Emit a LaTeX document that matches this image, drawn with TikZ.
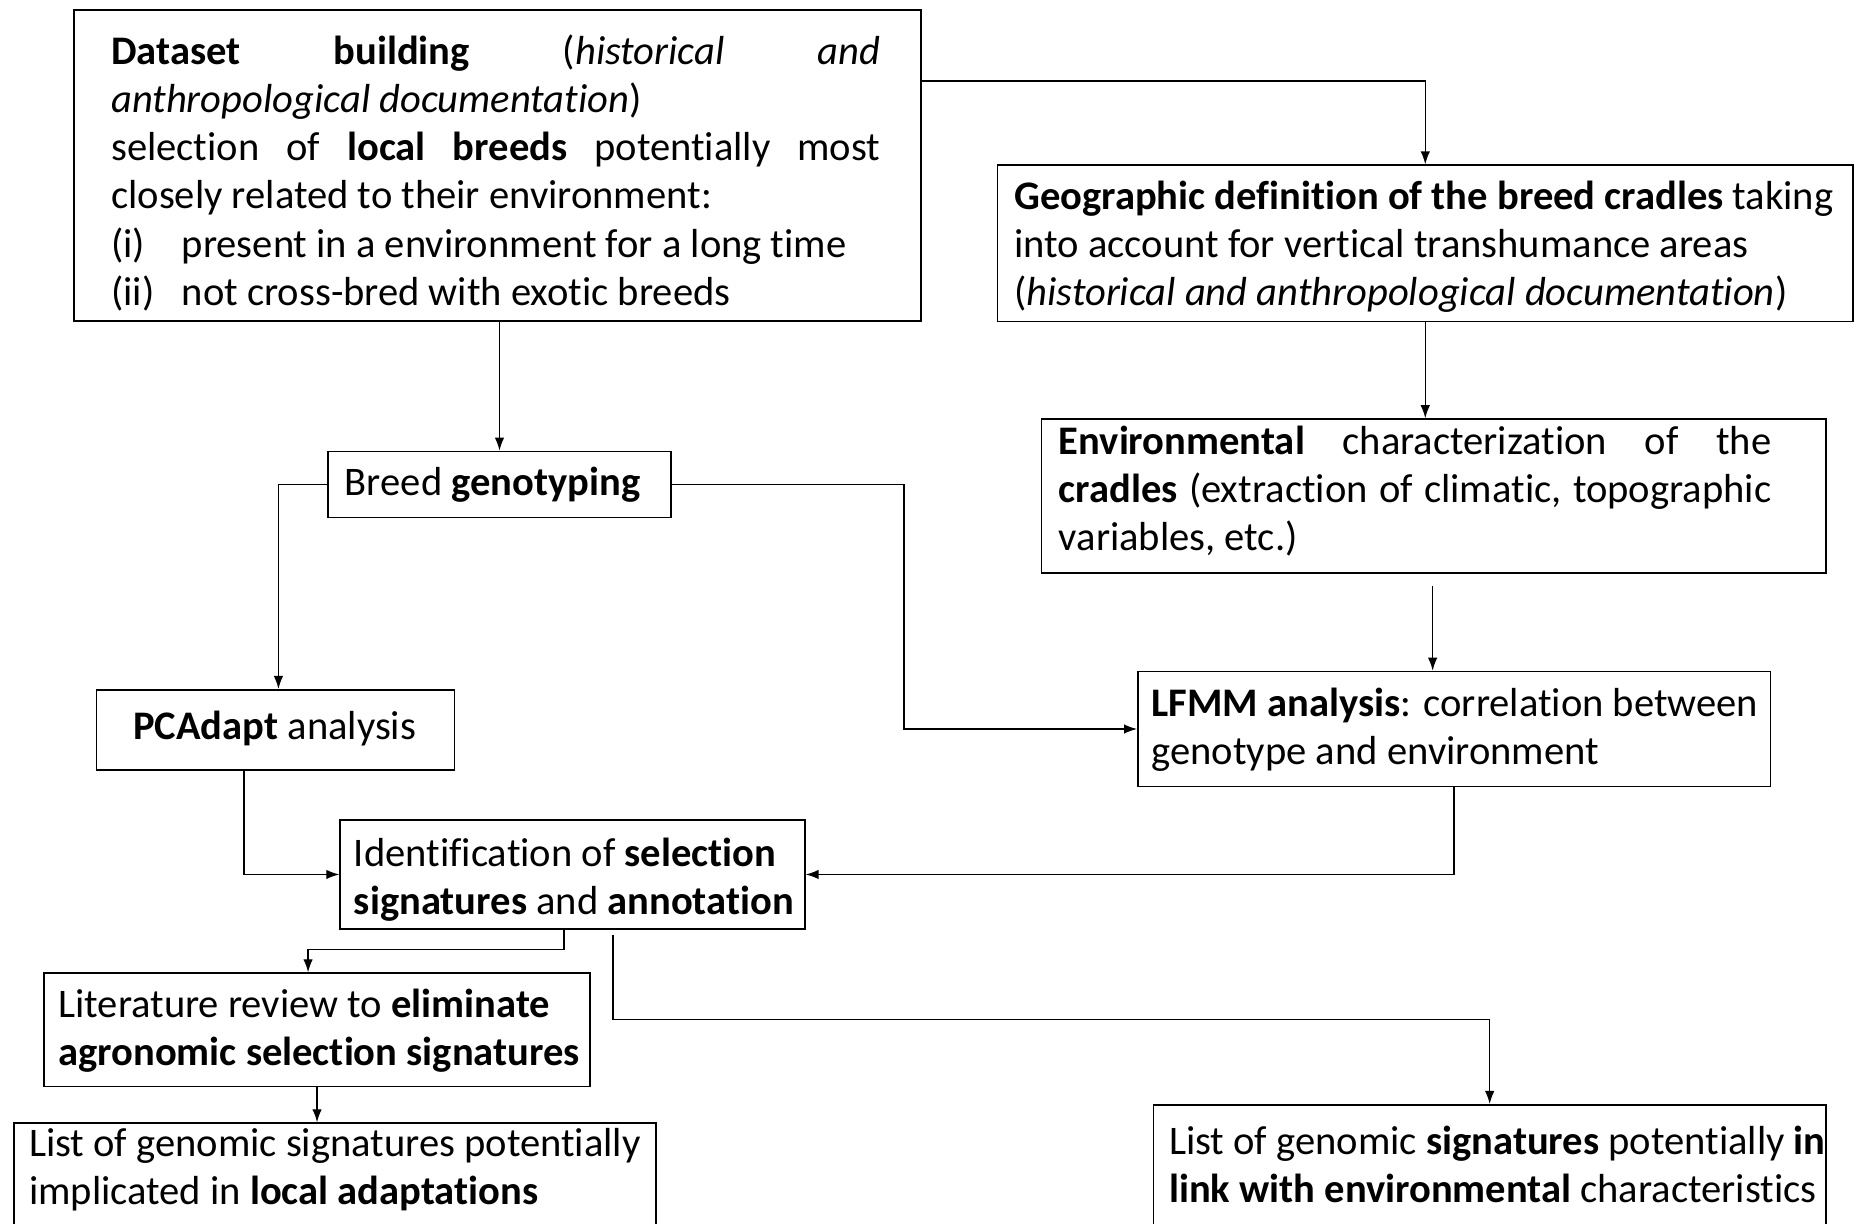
\documentclass[tikz,border=0pt]{standalone}
\usepackage{fontspec}
\setmainfont{Carlito}[Ligatures=NoCommon]
\usetikzlibrary{arrows.meta}
\newcommand\myfs{\fontsize{34.1pt}{40.5pt}\selectfont}
\newcommand\st{\rule{0pt}{26pt}}
\begin{document}
\begin{tikzpicture}[x=1pt,y=-1pt,
  box/.style={draw, line width=1.3pt, inner sep=0pt, anchor=north west, fill=white},
  txt/.style={inner sep=0pt, anchor=north west, align=left, font=\myfs},
  arr/.style={line width=1.2pt, -{Latex[length=11pt,width=8pt]}},
  ln/.style={line width=1.2pt}]
\useasboundingbox (0,0) rectangle (1568,1029);
\clip (0,0) rectangle (1568,1029);
\fill[white] (0,0) rectangle (1568,1029);
% boxes
\node[box, minimum width=712.2pt, minimum height=261.4pt] (b1) at (61.5,7.6) {};
\node[box, minimum width=719.3pt, minimum height=131.4pt] (b2) at (838,138.2) {};
\node[box, minimum width=659.8pt, minimum height=129.5pt] (b3) at (874.8,351.7) {};
\node[box, minimum width=288.2pt, minimum height=55.5pt] (b4) at (275.2,378.9) {};
\node[box, minimum width=300.9pt, minimum height=67.3pt] (b5) at (80.6,579.3) {};
\node[box, minimum width=531.7pt, minimum height=96.7pt] (b6) at (956,563.9) {};
\node[box, minimum width=390.7pt, minimum height=91.3pt] (b7) at (285.3,688.9) {};
\node[box, minimum width=459.2pt, minimum height=95.3pt] (b8) at (36.3,817.5) {};
\node[box, minimum width=539.9pt, minimum height=130pt] (b9) at (11.1,943.6) {};
\node[box, minimum width=565.6pt, minimum height=140pt] (b10) at (969,928.2) {};
% texts
\node[txt] (t1) at (93.3,28) {\st\makebox[646.7pt][l]{\textbf{Dataset}\hfill\textbf{building}\hfill(\textit{historical}\hfill\textit{and}}\\
\textit{anthropological documentation})\\
\makebox[646.7pt][l]{selection\hfill of\hfill\textbf{local}\hfill\textbf{breeds}\hfill potentially\hfill most}\\
closely related to their environment:\\
\makebox[59.4pt][l]{(i)}present in a environment for a long time\\
\makebox[59.4pt][l]{(ii)}not cross-bred with exotic breeds};
\node[txt] (t2) at (852.6,150) {\st\textbf{Geographic definition of the breed cradles} taking\\
into account for vertical transhumance areas\\
(\textit{historical and anthropological documentation})};
\node[txt] (t3) at (890,356) {\st\makebox[599pt][l]{\textbf{Environmental}\hfill characterization\hfill of\hfill the}\\
\makebox[599pt][l]{\textbf{cradles}\hfill(extraction\hfill of\hfill climatic,\hfill topographic}\\
variables, etc.)};
\node[txt] (t4) at (289.8,390.4) {\st Breed \textbf{genotyping}};
\node[txt] (t5) at (111.9,595.8) {\st\textbf{PCAdapt} analysis};
\node[txt] (t6) at (968.1,576.2) {\st\textbf{LFMM analysis}: correlation between\\
genotype and environment};
\node[txt] (t7) at (297.4,702.3) {\st Identification of \textbf{selection}\\
\textbf{signatures} and \textbf{annotation}};
\node[txt] (t8) at (48.9,829.2) {\st Literature review to \textbf{eliminate}\\
\textbf{agronomic selection signatures}};
\node[txt] (t9) at (24.2,946.1) {\st List of genomic signatures potentially\\
implicated in \textbf{local adaptations}};
\node[txt] (t10) at (982.7,944.7) {\st List of genomic \textbf{signatures} potentially \textbf{in}\\
\textbf{link with environmental} characteristics};
% connectors
\coordinate (f0) at (1204.5,493);
\coordinate (j0) at (515.2,785.8);
\draw[arr] (b1.east |- 0,68) -| (b2.north);
\draw[arr] (b2.south) -- (b2.south |- b3.north);
\draw[arr] (b1.south -| b4.north) -- (b4.north);
\draw[arr] (b4.west) -| ([xshift=2.4pt]b5.north);
\draw[arr] (b4.east) -- (760,0 |- b4.east) |- (b6.west);
\draw[arr] (f0) -- (f0 |- b6.north);
\draw[arr] (205.2,0 |- b5.south) |- (b7.west);
\draw[arr] (b6.south) |- (b7.east);
\draw[arr] (474.3,0 |- b7.south) -- (474.3,798.4) -| (259,0 |- b8.north);
\draw[arr] (j0) -- (j0 |- 0,857.3) -| (b10.north);
\draw[arr] (b8.south) -- (b8.south |- b9.north);
\end{tikzpicture}
\end{document}
